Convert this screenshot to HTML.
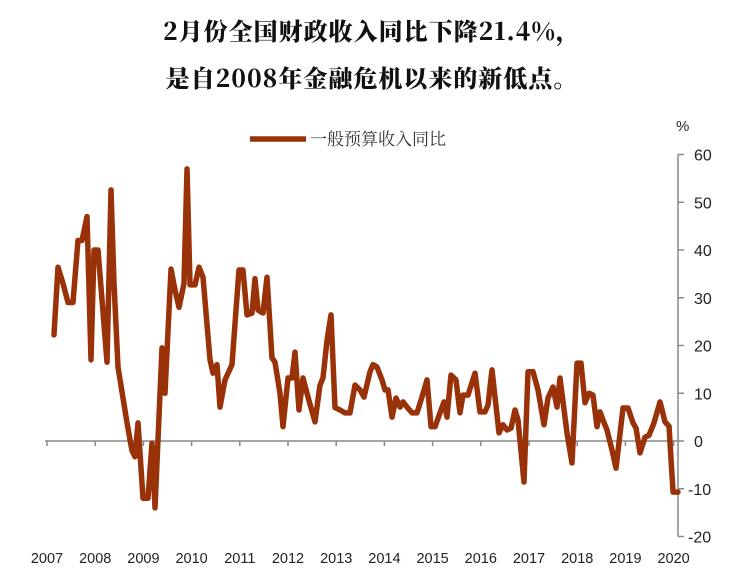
<!DOCTYPE html>
<html><head><meta charset="utf-8">
<style>
body{margin:0;background:#fff;width:744px;height:578px;overflow:hidden;}
.t{position:absolute;left:0;width:744px;text-align:center;font-family:"Noto Serif CJK SC","Liberation Serif",serif;font-weight:900;font-size:24px;color:#111;letter-spacing:1px;}
</style></head>
<body>
<div class="t" style="top:12px">2月份全国财政收入同比下降21.4%，</div>
<div class="t" style="top:59px">是自2008年金融危机以来的新低点。</div>
<svg id="c" width="744" height="578" style="position:absolute;left:0;top:0"></svg>
<script>
const dates=[2007.145,2007.228,2007.332,2007.436,2007.539,2007.643,2007.726,2007.83,2007.913,2007.975,2008.058,2008.162,2008.245,2008.328,2008.39,2008.473,2008.66,2008.763,2008.826,2008.888,2008.992,2009.095,2009.178,2009.241,2009.386,2009.448,2009.573,2009.656,2009.739,2009.842,2009.905,2009.967,2010.071,2010.154,2010.237,2010.382,2010.444,2010.527,2010.589,2010.693,2010.838,2010.983,2011.066,2011.149,2011.253,2011.315,2011.378,2011.481,2011.564,2011.668,2011.73,2011.834,2011.896,2012.0,2012.083,2012.145,2012.228,2012.311,2012.415,2012.56,2012.664,2012.726,2012.809,2012.892,2012.975,2013.079,2013.183,2013.286,2013.39,2013.494,2013.577,2013.701,2013.763,2013.846,2013.95,2014.012,2014.075,2014.158,2014.241,2014.324,2014.386,2014.469,2014.573,2014.676,2014.78,2014.884,2014.967,2015.05,2015.154,2015.237,2015.299,2015.382,2015.485,2015.568,2015.631,2015.734,2015.88,2015.983,2016.087,2016.149,2016.232,2016.378,2016.461,2016.544,2016.627,2016.71,2016.772,2016.896,2016.979,2017.083,2017.187,2017.311,2017.394,2017.498,2017.581,2017.643,2017.788,2017.892,2017.996,2018.079,2018.162,2018.245,2018.328,2018.411,2018.473,2018.535,2018.618,2018.722,2018.805,2018.95,2019.054,2019.158,2019.22,2019.303,2019.407,2019.49,2019.593,2019.718,2019.822,2019.905,2019.988,2020.091];
const values=[22.2,36.4,33,29,29,42,42,47,17,40,40,27,16.5,52.6,33,15.5,3.8,-2,-3.3,3.8,-12,-12,-0.5,-14,19.5,10,36,31.6,28,33,57,32.7,32.7,36.4,34.3,17,14.2,16,7.1,12.8,16,35.8,35.8,26.4,26.8,34,27.4,26.8,34.3,17.4,16.5,10,3,13.2,13.2,18.6,6.5,13.2,9.2,4,11.7,13.2,21,26.4,7,6.5,5.9,5.9,11.7,10.7,9.2,14.5,16,15.5,12.8,10.7,10.7,5,9,7.1,8.2,7.1,5.9,5.9,9.2,12.8,3,3,5.9,8.2,5,13.8,12.8,5.9,9.6,9.6,14.2,6.1,6.1,7.5,14.9,1.7,3.4,2.3,2.7,6.5,4.4,-8.6,14.5,14.5,10.7,3.4,9,11.3,7.1,13.2,1.7,-4.6,16.3,16.3,8,10,9.6,3,6.1,4.4,2.3,-1.9,-5.7,6.9,6.9,3.8,2.7,-2.5,0.8,1.2,3.8,8.2,4,3.1,-10.7,-10.7];
const yTicks=[60,50,40,30,20,10,0,-10,-20];
const years=[2007,2008,2009,2010,2011,2012,2013,2014,2015,2016,2017,2018,2019,2020];
const NS="http://www.w3.org/2000/svg",svg=document.getElementById('c');
const X=t=>47+(t-2007)*48.2, Y=v=>441-v*4.775;
function mk(tag,a,txt){const e=document.createElementNS(NS,tag);for(const k in a)e.setAttribute(k,a[k]);if(txt!=null)e.textContent=txt;svg.appendChild(e);return e;}
let e=mk('line',{x1:678,y1:Y(60),x2:678,y2:Y(-20),stroke:'#888','stroke-width':1.5});


yTicks.forEach(v=>{
 let t=mk('line',{x1:678,y1:Y(v),x2:684,y2:Y(v),stroke:'#888','stroke-width':1.5});
 
 
 let l=mk('text',{x:v<0?688:694,y:Y(v)+6,'font-family':'Liberation Sans, sans-serif','font-size':16,fill:'#222'},String(v));
 
 
});
e=mk('text',{x:676,y:131,'font-family':'Liberation Sans, sans-serif','font-size':15,fill:'#222'},'%');


e=mk('line',{x1:45,y1:Y(0),x2:678,y2:Y(0),stroke:'#888','stroke-width':1.5});


years.forEach(y=>{
 let t=mk('line',{x1:X(y),y1:Y(0),x2:X(y),y2:Y(0)+5,stroke:'#888','stroke-width':1.5});
 
 
 let l=mk('text',{x:X(y),y:563,'text-anchor':'middle','font-family':'Liberation Sans, sans-serif','font-size':14.5,fill:'#222'},String(y));
 
 
});
e=mk('polyline',{points:dates.map((d,i)=>X(d)+','+Y(values[i])).join(' '),fill:'none',stroke:'#9a3209','stroke-width':5.5,'stroke-linejoin':'round','stroke-linecap':'round'});


e=mk('line',{x1:250,y1:139,x2:306,y2:139,stroke:'#9a3209','stroke-width':5.5});


e=mk('text',{x:310,y:145,'font-family':'Noto Serif CJK SC, serif','font-size':17,fill:'#333'},'一般预算收入同比');


</script>
</body></html>
